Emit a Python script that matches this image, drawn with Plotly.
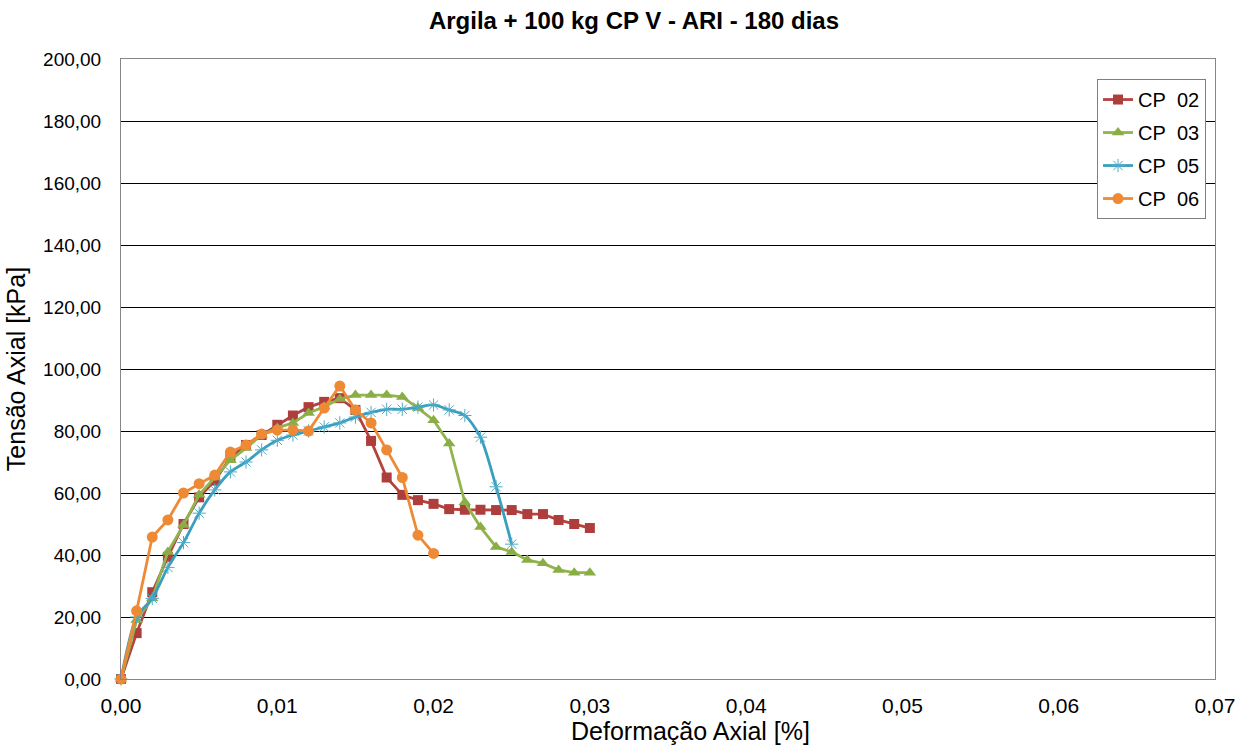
import plotly.graph_objects as go

x02 = [0, 0.001, 0.002, 0.003, 0.004, 0.005, 0.006, 0.007, 0.008, 0.009, 0.010, 0.011, 0.012, 0.013, 0.014, 0.015,
       0.016, 0.017, 0.018, 0.019, 0.020, 0.021, 0.022, 0.023, 0.024, 0.025, 0.026, 0.027, 0.028, 0.029, 0.030]
y02 = [0, 14.8, 28.0, 39.4, 50.0, 58.6, 64.0, 71.4, 75.5, 78.7, 82.0, 85.0, 87.7, 89.4, 90.6, 86.8,
       76.8, 65.0, 59.4, 57.7, 56.5, 54.8, 54.6, 54.6, 54.5, 54.5, 53.2, 53.2, 51.3, 50.0, 48.7]

x03 = [0, 0.001, 0.002, 0.003, 0.004, 0.005, 0.006, 0.007, 0.008, 0.009, 0.010, 0.011, 0.012, 0.013, 0.014, 0.015,
       0.016, 0.017, 0.018, 0.019, 0.020, 0.021, 0.022, 0.023, 0.024, 0.025, 0.026, 0.027, 0.028, 0.029, 0.030]
y03 = [0, 19.0, 26.0, 41.0, 49.7, 59.4, 65.0, 70.6, 74.5, 78.7, 81.0, 82.6, 85.8, 87.8, 90.3, 91.6,
       91.6, 91.6, 91.0, 87.4, 83.5, 76.0, 57.0, 49.0, 42.6, 41.0, 38.4, 37.3, 35.2, 34.3, 34.3]

x05 = [0, 0.001, 0.002, 0.003, 0.004, 0.005, 0.006, 0.007, 0.008, 0.009, 0.010, 0.011, 0.012, 0.013, 0.014,
       0.015, 0.016, 0.017, 0.018, 0.019, 0.020, 0.021, 0.022, 0.023, 0.024, 0.025]
y05 = [0, 20.0, 26.0, 36.0, 44.0, 53.5, 61.0, 66.8, 70.0, 73.9, 77.0, 78.7, 80.0, 81.3, 82.6,
       84.5, 86.0, 87.0, 87.0, 87.7, 88.4, 86.8, 85.0, 78.0, 62.0, 43.5]

x06 = [0, 0.001, 0.002, 0.003, 0.004, 0.005, 0.006, 0.007, 0.008, 0.009, 0.010, 0.011, 0.012, 0.013, 0.014,
       0.015, 0.016, 0.017, 0.018, 0.019, 0.020]
y06 = [0, 22.0, 45.8, 51.3, 60.0, 63.0, 65.8, 73.2, 75.5, 79.0, 80.3, 80.3, 80.0, 87.4, 94.5,
       86.8, 82.6, 73.9, 65.0, 46.4, 40.5]

names = ["CP\u00a0\u00a002", "CP\u00a0\u00a003", "CP\u00a0\u00a005", "CP\u00a0\u00a006"]
x_title = "Deformação Axial [%]"
y_title = "Tensão Axial [kPa]"
chart_title = "Argila + 100 kg CP V - ARI - 180 dias"

fig = go.Figure()
fig.add_trace(go.Scatter(x=x02, y=y02, name=names[0], mode="lines+markers", legendgroup="a",
                         cliponaxis=False,
                         line=dict(color="#B5423F", width=2.8),
                         marker=dict(symbol="square", size=10, color="#AE3E3B")))
fig.add_trace(go.Scatter(x=x03, y=y03, name=names[1], mode="lines+markers", legendgroup="b",
                         cliponaxis=False,
                         line=dict(color="#92B34E", width=2.8),
                         marker=dict(symbol="triangle-up", size=11, color="#8AAE45")))
fig.add_trace(go.Scatter(x=x05, y=y05, name=names[2], mode="lines+markers", legendgroup="c",
                         cliponaxis=False,
                         line=dict(color="#3A9EBF", width=2.8, shape="spline", smoothing=0.8),
                         marker=dict(symbol="asterisk-open", size=11, color="#4BACC6",
                                     line=dict(color="#4BACC6", width=1))))
fig.add_trace(go.Scatter(x=x06, y=y06, name=names[3], mode="lines+markers", legendgroup="d",
                         cliponaxis=False,
                         line=dict(color="#EE8A35", width=2.8),
                         marker=dict(symbol="circle", size=11, color="#EE8A35")))

fig.update_layout(
    width=1248, height=750,
    margin=dict(l=121, r=33, t=59, b=71),
    paper_bgcolor="white", plot_bgcolor="white",
    separators=",.",
    font=dict(family="Liberation Sans, Arial, sans-serif", color="black"),
    title=dict(text="<b>" + chart_title + "</b>", x=0.508, xanchor="center",
               y=0.973, yanchor="middle", font=dict(size=24, color="black")),
    showlegend=True,
    legend=dict(x=0.9918, xanchor="right", y=0.9677, yanchor="top",
                bordercolor="#7F7F7F", borderwidth=1, bgcolor="white",
                traceorder="grouped", tracegroupgap=4,
                font=dict(size=20), itemwidth=30),
    xaxis=dict(range=[0, 0.07], dtick=0.01, tickformat=".2f", showgrid=False,
               showline=True, linecolor="#868686", linewidth=1, mirror=True,
               ticks="", ticklabelstandoff=8,
               tickfont=dict(size=21), zeroline=False),
    yaxis=dict(range=[0, 200], dtick=20, tickformat=".2f", showgrid=True,
               gridcolor="black", gridwidth=1,
               showline=True, linecolor="#868686", linewidth=1, mirror=True,
               ticks="", ticklabelstandoff=15,
               tickfont=dict(size=19), zeroline=False,
               title=dict(text=y_title, font=dict(size=25), standoff=10)),
    annotations=[dict(text=x_title, xref="paper", yref="paper", x=0.521, y=-0.0835,
                      xanchor="center", yanchor="middle", showarrow=False,
                      font=dict(size=25, color="black"))],
)

fig.write_html("out.html")
